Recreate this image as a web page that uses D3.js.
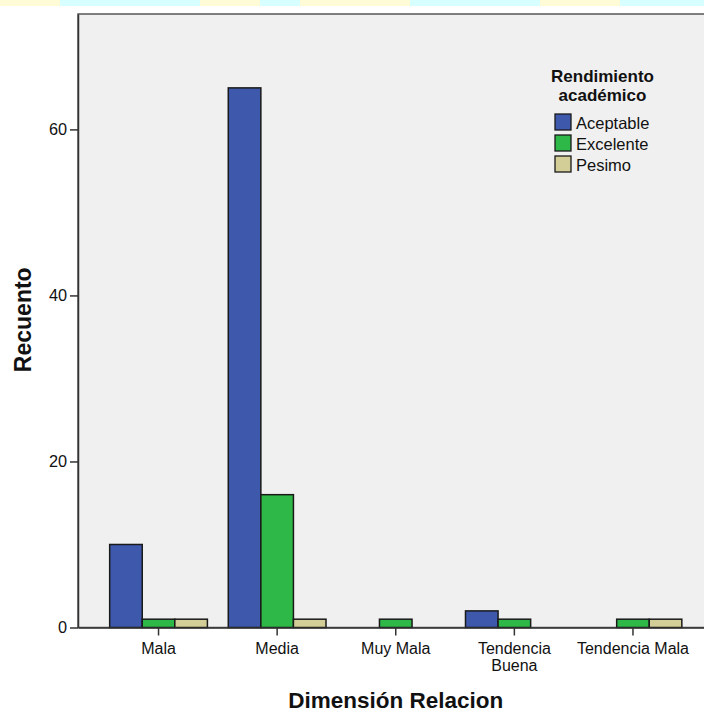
<!DOCTYPE html>
<html><head><meta charset="utf-8">
<script src="https://cdn.jsdelivr.net/npm/d3@7"></script>
<style>body{margin:0;background:#fff}svg{display:block}</style>
</head><body><svg id="c" width="704" height="713"></svg>
<script>
const categories = ["Mala","Media","Muy Mala","Tendencia Buena","Tendencia Mala"];
const categoryLines = [["Mala"],["Media"],["Muy Mala"],["Tendencia","Buena"],["Tendencia Mala"]];
const seriesNames = ["Aceptable","Excelente","Pesimo"];
const aceptable = [10,65,0,2,0];
const excelente = [1,16,1,1,1];
const pesimo = [1,1,0,0,1];
const yTicks = [0,20,40,60];
const colors = ["#3e58ac","#2eb848","#d3ce97"];
const seriesValues = [aceptable, excelente, pesimo];

const svg = d3.select("#c");
const font = "'Liberation Sans', Arial, sans-serif";
const L = 78, R = 713.5, T = 14, B = 627.5;

// top strip artifact
const strip = [["#fffbd6",0,60],["#d8ffff",60,140],["#fffbd6",200,60],["#d8ffff",260,40],["#fffbd6",300,110],["#d8ffff",410,130],["#fffbd6",540,80],["#d8ffff",620,84]];
svg.selectAll("rect.strip").data(strip).join("rect").attr("class","strip")
  .attr("x",d=>d[1]).attr("y",0).attr("width",d=>d[2]).attr("height",6).attr("fill",d=>d[0]);

svg.append("rect").attr("x",L).attr("y",T).attr("width",R-L).attr("height",B-T)
  .attr("fill","#f0f0f0").attr("stroke","#555").attr("stroke-width",1.5);

const x = d3.scaleBand().domain(categories).range([L,R]).paddingInner(0).paddingOuter(0.179);
const y = d3.scaleLinear().domain([0,73.9]).range([B,T]);
const xs = d3.scaleBand().domain(seriesNames).range([0,x.bandwidth()*0.824]);
const off = (x.bandwidth() - xs.range()[1])/2;

const data = [];
categories.forEach((c,i)=>seriesNames.forEach((s,j)=>data.push({c,s,v:seriesValues[j][i],j})));
svg.append("g").selectAll("rect").data(data.filter(d=>d.v>0)).join("rect")
  .attr("x",d=>x(d.c)+off+xs(d.s)).attr("width",xs.bandwidth())
  .attr("y",d=>y(d.v)).attr("height",d=>y(0)-y(d.v))
  .attr("fill",d=>colors[d.j]).attr("stroke","#1a1a1a").attr("stroke-width",1.5);

// y axis
const ya = svg.append("g").attr("transform",`translate(${L},0)`)
  .call(d3.axisLeft(y).tickValues(yTicks).tickSize(8).tickSizeOuter(0).tickPadding(3));
ya.select(".domain").attr("stroke","#333").attr("stroke-width",1.5);
ya.selectAll(".tick line").attr("stroke","#333").attr("stroke-width",1.5);
ya.selectAll("text").attr("font-family",font).attr("font-size",16.3).attr("fill","#111");

// x axis
const xa = svg.append("g").attr("transform",`translate(0,${B})`)
  .call(d3.axisBottom(x).tickSize(8).tickSizeOuter(0).tickFormat(""));
xa.select(".domain").attr("stroke","#333").attr("stroke-width",1.5);
xa.selectAll(".tick line").attr("stroke","#333").attr("stroke-width",1.5);
xa.selectAll(".tick").each(function(d,i){
  const t = d3.select(this).append("text").attr("font-family",font).attr("font-size",16)
    .attr("fill","#111").attr("text-anchor","middle").attr("y",26.5);
  categoryLines[i].forEach((ln,k)=>t.append("tspan").attr("x",0).attr("dy",k?17:0).text(ln));
});

svg.append("text").attr("x",(L+R)/2).attr("y",708).attr("text-anchor","middle")
  .attr("font-family",font).attr("font-weight","bold").attr("font-size",22.5).attr("fill","#111")
  .text("Dimensión Relacion");
svg.append("text").attr("transform",`translate(31,${(T+B)/2 - 1}) rotate(-90)`).attr("text-anchor","middle")
  .attr("font-family",font).attr("font-weight","bold").attr("font-size",23).attr("fill","#111")
  .text("Recuento");

// legend
const lg = svg.append("g");
lg.append("text").attr("x",602.5).attr("y",81.5).attr("text-anchor","middle")
  .attr("font-family",font).attr("font-weight","bold").attr("font-size",17).attr("fill","#111")
  .selectAll("tspan").data(["Rendimiento","académico"]).join("tspan")
  .attr("x",602.5).attr("dy",(d,i)=>i?19:0).text(d=>d);
const items = lg.selectAll("g.it").data(seriesNames).join("g").attr("class","it")
  .attr("transform",(d,i)=>`translate(555,${114+i*21})`);
items.append("rect").attr("width",16).attr("height",16).attr("fill",(d,i)=>colors[i])
  .attr("stroke","#1a1a1a").attr("stroke-width",1.3);
items.append("text").attr("x",21).attr("y",15).attr("font-family",font).attr("font-size",16.5)
  .attr("fill","#111").text(d=>d);
</script></body></html>
